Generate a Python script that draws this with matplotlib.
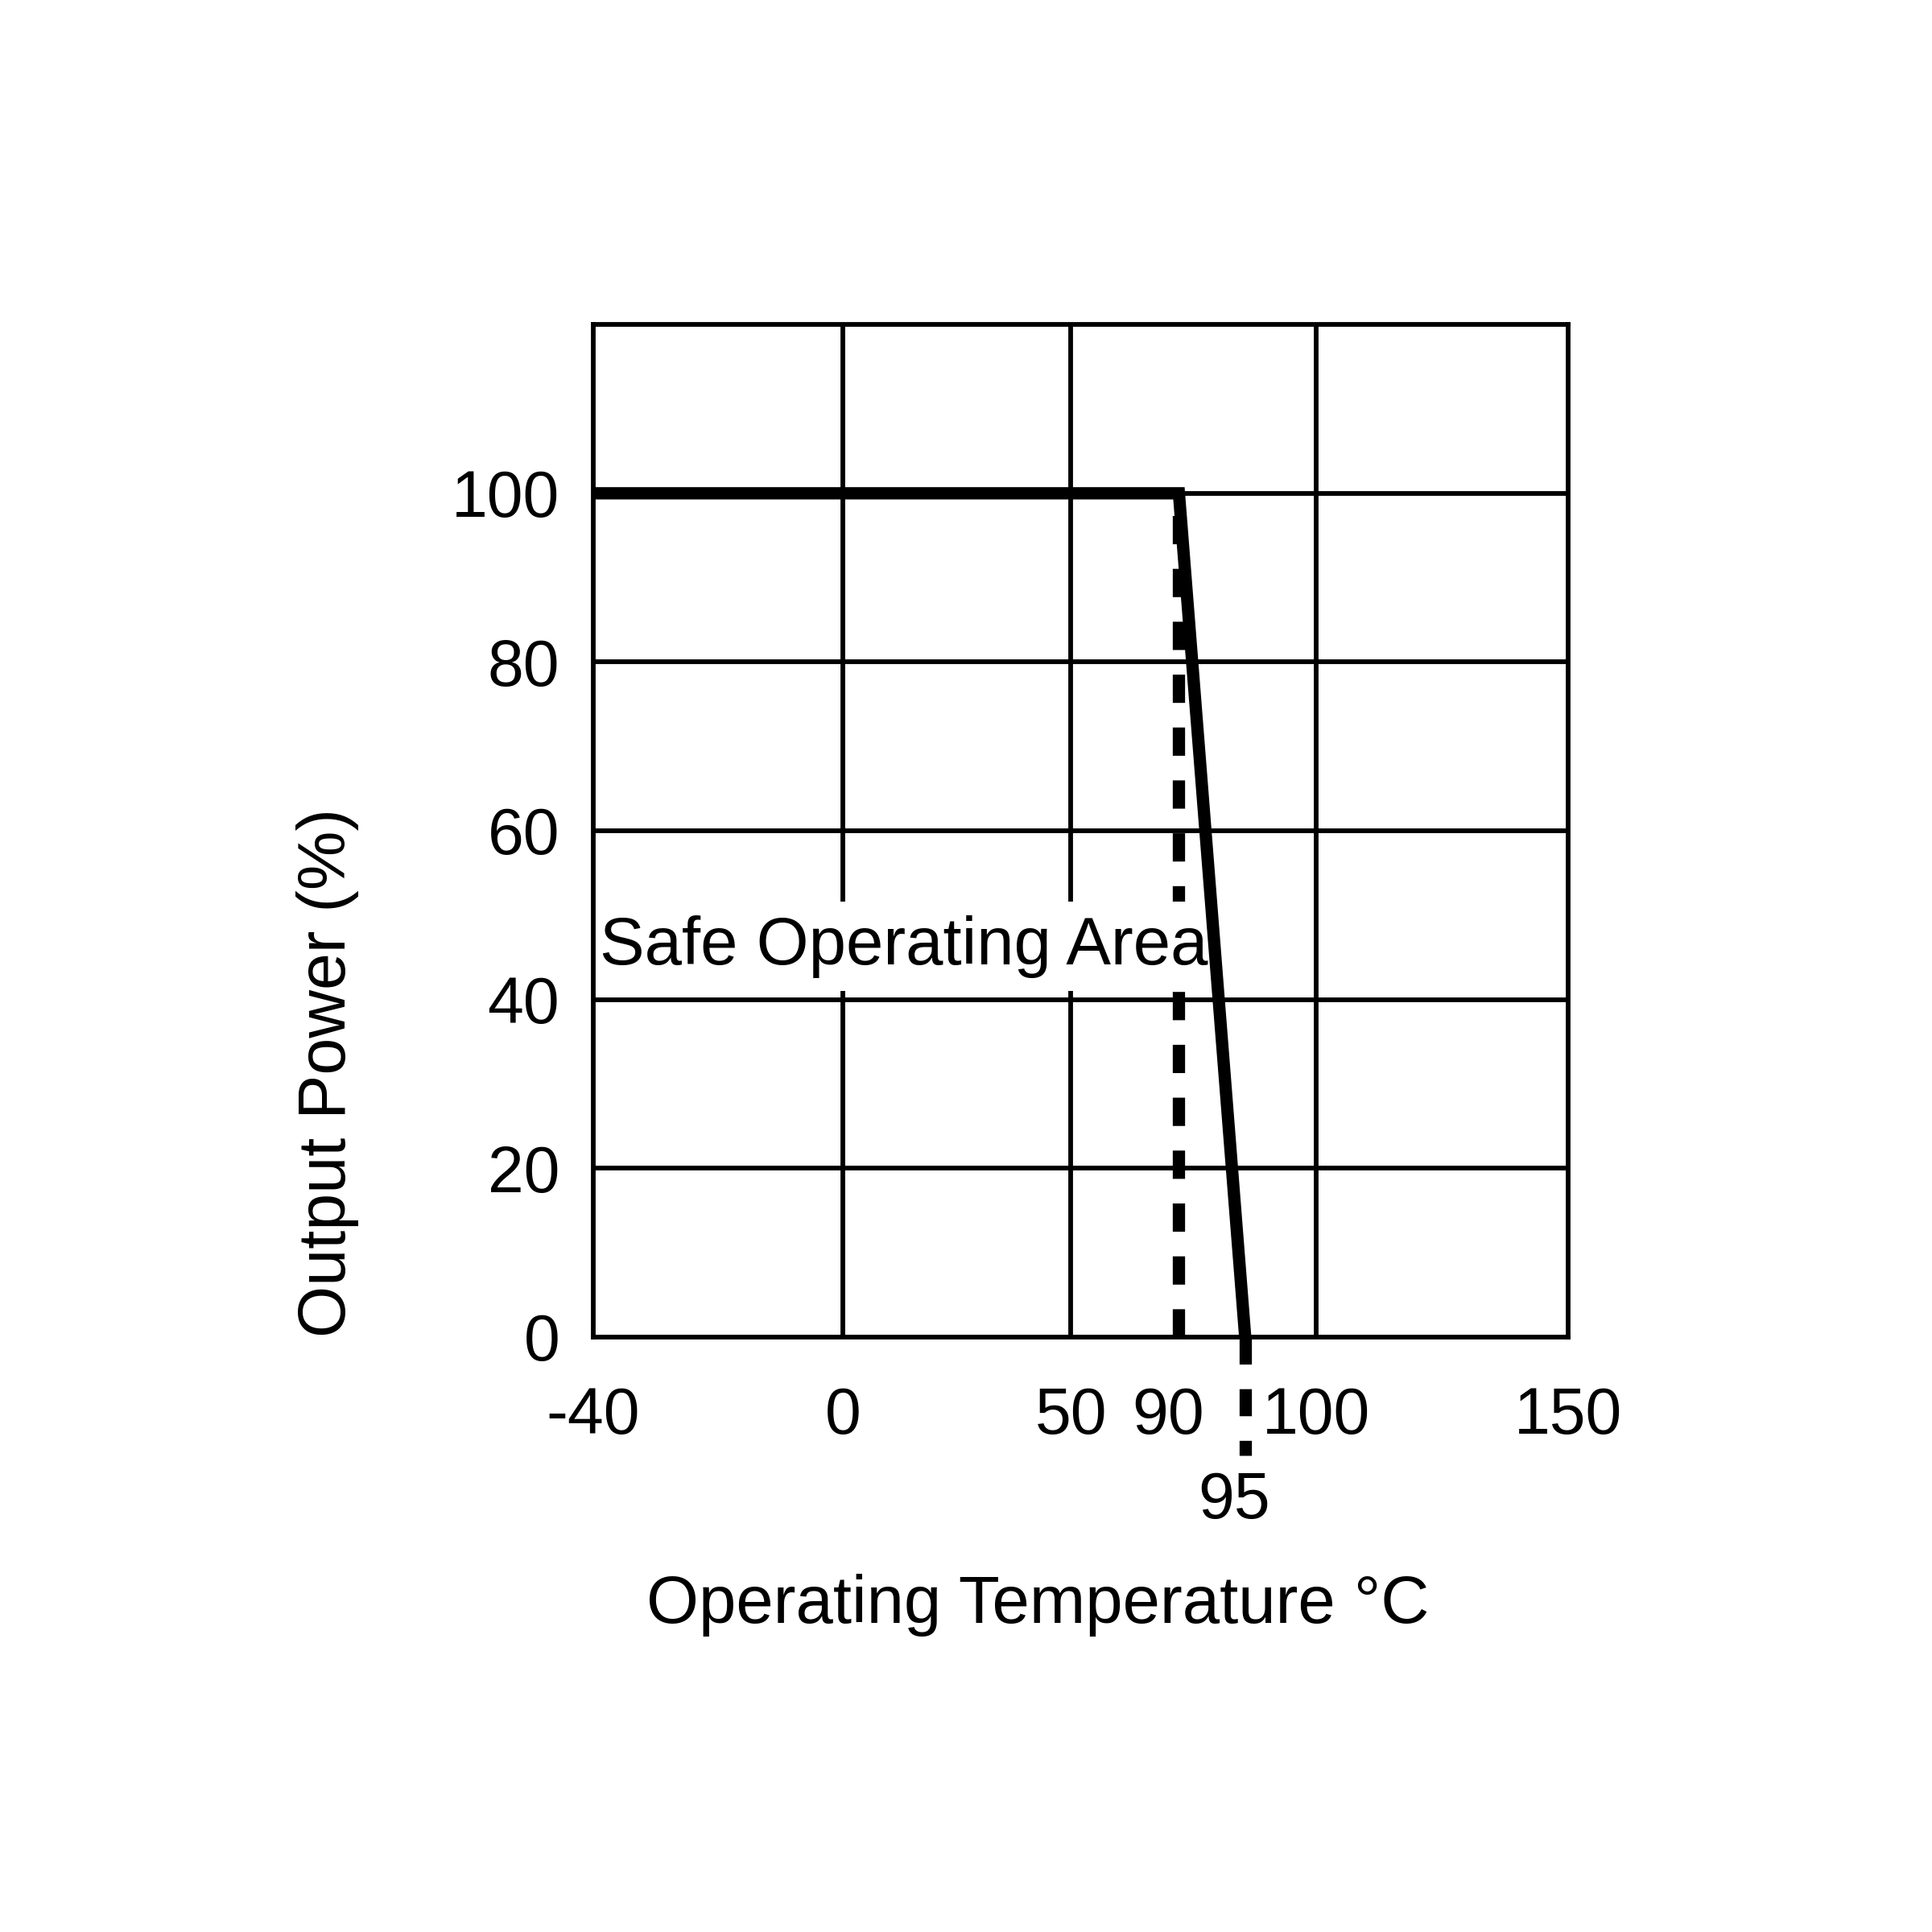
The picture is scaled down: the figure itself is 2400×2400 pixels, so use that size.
import numpy as np
import matplotlib
matplotlib.use("Agg")
import matplotlib.pyplot as plt
import matplotlib.transforms as mtransforms

plt.rcParams['font.family'] = ['Liberation Sans', 'DejaVu Sans']

# derating curve
temp = [-40, 90, 95]
power = [100, 100, 0]

derate_start = 90
derate_end = 95
below_axis = -14   # how far the 95 marker runs under the axis

x_ticks = [-40, 0, 50, 90, 100, 150]
x_ticklabels = ["-40", "0", "50", "90", "100", "150"]
y_ticks = [0, 20, 40, 60, 80, 100]
grid_x = [0, 50, 100]
grid_y = [20, 40, 60, 80, 100]

# the temperature axis is not linear on the original sheet
knots = [-40, 0, 50, 90, 95, 100, 150]
knot_pos = [0, 0.256, 0.490, 0.601, 0.669, 0.742, 1.0]

def fwd(x):
    return np.interp(x, knots, knot_pos)

def inv(p):
    return np.interp(p, knot_pos, knots)

fs = 58
fig = plt.figure(figsize=(24, 24), dpi=100)
ax = fig.add_axes([0.307, 0.308, 0.5045, 0.524])
ax.set_xscale('function', functions=(fwd, inv))
ax.set_xlim(-40, 150)
ax.set_ylim(0, 120)

for v in grid_x:
    ax.axvline(v, color='black', lw=4.2, zorder=0.5)
for v in grid_y:
    ax.axhline(v, color='black', lw=4.2, zorder=0.5)

# dashed marker at 90 and the short one under the axis at 95
ax.plot([derate_start, derate_start], [0, 100], color='black', lw=11,
        linestyle=(0, (2.3, 2.0)), zorder=1)
ax.plot([derate_end, derate_end], [0, below_axis], color='black', lw=11,
        linestyle=(0, (2.2, 2.0)), clip_on=False, zorder=3)

ax.plot(temp, power, color='black', lw=11, solid_joinstyle='miter',
        solid_capstyle='butt', zorder=3)

ax.text(-39, 46.3, "Safe Operating Area", fontsize=60, ha='left', va='center',
        bbox=dict(facecolor='white', edgecolor='none', pad=12), zorder=1.5)

ax.set_xticks(x_ticks)
ax.set_xticklabels(x_ticklabels)
ax.set_xticks([derate_end], minor=True)
ax.set_xticklabels([str(derate_end)], minor=True)
ax.set_yticks(y_ticks)
ax.tick_params(axis='both', which='both', length=0, labelsize=fs)
ax.tick_params(axis='x', which='major', pad=44)
ax.tick_params(axis='x', which='minor', pad=120)
ax.tick_params(axis='y', pad=30)

# the 90 / 95 labels sit a little left of their marks on the original
nudge = mtransforms.ScaledTranslation(-10 / 72, 0, fig.dpi_scale_trans)
for lab in [ax.get_xticklabels()[3]] + ax.get_xticklabels(minor=True):
    lab.set_transform(lab.get_transform() + nudge)

for s in ax.spines.values():
    s.set_linewidth(4.2)
    s.set_zorder(2.5)

ax.set_ylabel("Output Power (%)", fontsize=59.5, loc='bottom')
ax.yaxis.set_label_coords(-0.24, 0)
ax.set_xlabel("Operating Temperature °C", fontsize=60)
ax.xaxis.set_label_coords(0.456, -0.234)

fig.savefig("out.png", dpi=100, facecolor='white')
